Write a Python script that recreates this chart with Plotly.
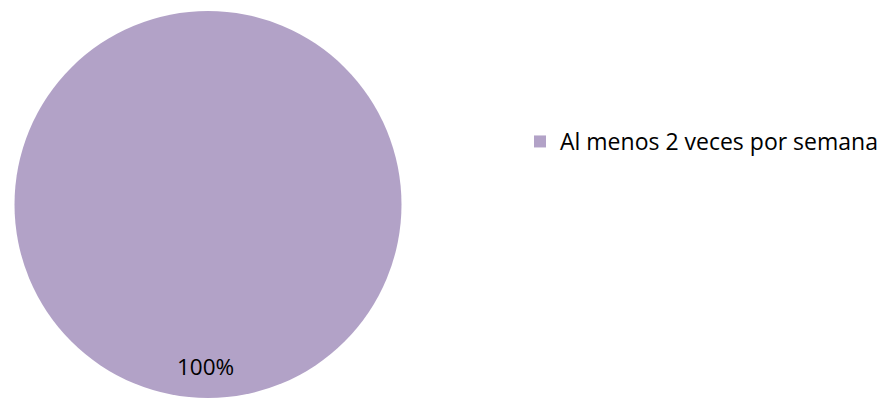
import plotly.graph_objects as go

categories = ["Al menos 2 veces por semana"]
values = [100]
colors = ["#B2A2C7"]

W, H = 883, 398
total = sum(values)
pct_labels = [f"{round(v / total * 100)}%" for v in values]

FONT = "'Open Sans', 'Noto Sans', sans-serif"

fig = go.Figure(
    go.Pie(
        labels=categories,
        values=values,
        marker=dict(colors=colors, line=dict(width=0)),
        textinfo="none",
        sort=False,
        direction="clockwise",
        domain=dict(x=[13 / W, 403 / W], y=[0, 1]),
        hoverinfo="label+percent",
    )
)

# percentage label placed low inside the disc
fig.add_annotation(
    x=205 / W, y=1 - (366 - 11) / (H - 11),
    xref="paper", yref="paper", xanchor="center", yanchor="middle",
    text=pct_labels[0], showarrow=False,
    font=dict(family=FONT, size=22.5, color="#000000"),
)

fig.update_layout(
    width=W, height=H,
    margin=dict(l=0, r=0, t=11, b=0),
    paper_bgcolor="white",
    plot_bgcolor="white",
    showlegend=True,
    legend=dict(
        x=520 / W, y=1 - (141.5 - 11) / (H - 11), xanchor="left", yanchor="middle",
        font=dict(family=FONT, size=23, color="#000000"),
        bgcolor="rgba(0,0,0,0)",
    ),
)

fig.write_html("out.html")
